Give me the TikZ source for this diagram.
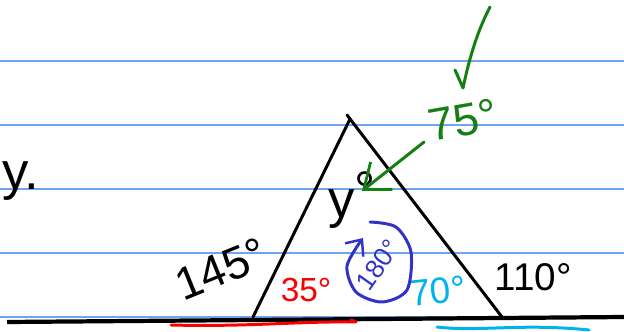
\documentclass[tikz,border=0pt]{standalone}
\usepackage{fontspec}
\setmainfont{Liberation Sans}
\usepackage{tikz}
\usetikzlibrary{positioning, arrows.meta, calc}
\usepackage{xcolor}

\definecolor{rulecol}{RGB}{110,165,240}
\definecolor{markgreen}{RGB}{20,128,20}
\definecolor{markred}{RGB}{250,0,0}
\definecolor{markcyan}{RGB}{0,178,240}
\definecolor{markblue}{RGB}{50,50,200}

\begin{document}
\begin{tikzpicture}[
    x=0.02cm, y=-0.02cm,
    rule/.style={rulecol, line width=0.7pt},
    edge/.style={black, line width=1.7pt, line cap=round},
    hand/.style={inner sep=0pt, font=\fontsize{#1}{#1}\selectfont},
    note/.style={line width=1.7pt, line cap=round, line join=round},
    barb/.style={-{Straight Barb[length=4.5mm, width=7mm, line width=1.6pt]}}
]
\useasboundingbox (0,0) rectangle (624,331);

% Righe del foglio
\foreach \yy in {61,125,189,253,317}
    \draw[rule] (0,\yy) -- (624,\yy);

% Retta di base
\coordinate (b1) at (7,322);
\coordinate (b2) at (624,317);
\draw[black, line width=2.4pt] (b1) -- (b2);

% Triangolo
\coordinate (v1) at (253,317);
\coordinate (v2) at (350,119);
\coordinate (v3) at (502,317);
\coordinate (v0) at (347,115);
\draw[edge] (v1) -- (v2);
\draw[edge] (v0) -- (v3);

% Etichette nere
\node[hand=30] (y1) at (21,181) {y.};
\node[hand=30] (y2) at (352,200) {y\raisebox{5pt}{°}};
\node[hand=26, rotate=22] (a1) at (221,269) {145°};
\node[hand=22] (a2) at (533,277) {110°};

% Angoli colorati
\node[hand=19, markred] (a3) at (306,290) {35°};
\node[hand=21, markcyan, rotate=6] (a4) at (438,291) {70°};
\node[hand=26, markgreen, rotate=10] (a5) at (463,120) {75°};
\node[hand=15, markblue, rotate=55] (a6) at (378,265) {180°};

% Freccia verde e spunta
\coordinate (g1) at (424,142);
\coordinate (g2) at (362,191);
\draw[note, markgreen, barb] (g1) -- (g2);
\coordinate (k1) at (455,70);
\coordinate (k2) at (463,88);
\coordinate (k3) at (490,7);
\draw[note, markgreen] (k1) -- (k2) .. controls (470,55) and (478,30) .. (k3);

% Cerchio blu
\draw[note, markblue, -{Straight Barb[length=2.6mm, width=4.5mm, line width=1.4pt]}]
    plot[smooth] coordinates {(370,222) (396,227) (411,252) (407,290) (382,302)
    (356,292) (347,266) (363,238)};

% Sottolineature
\coordinate (r1) at (171,325);
\coordinate (r2) at (356,322);
\draw[note, markred] (r1) .. controls (250,327) and (300,321) .. (r2) -- (351,320);
\coordinate (c1) at (437,327);
\coordinate (c2) at (589,330);
\draw[note, markcyan] (c1) .. controls (480,332) and (520,323) .. (c2);

\end{tikzpicture}
\end{document}
